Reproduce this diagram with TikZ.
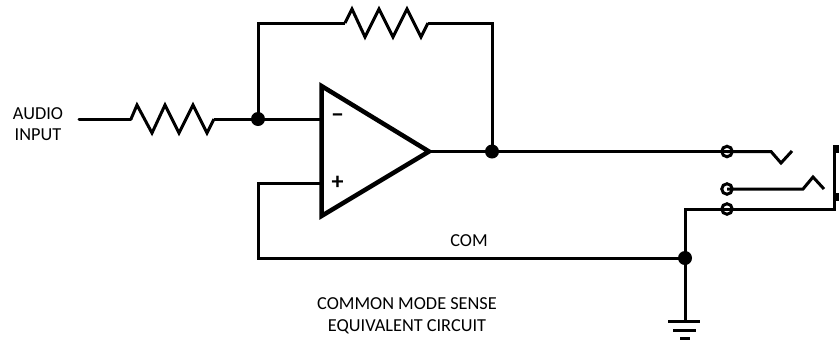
\documentclass[tikz,border=0pt]{standalone}
\usepackage{fontspec}
\setmainfont{Carlito}
\tikzset{
wire/.style={line width=3pt,line join=miter},
dot/.style={circle,fill=black,inner sep=0pt,minimum size=14pt},
jackring/.style={circle,draw=black,line width=3pt,fill=none,inner sep=0pt,minimum size=10.5pt},
lbl/.style={font=\fontsize{18.3}{21.5}\selectfont,align=center,inner sep=0pt},
sign/.style={font=\fontsize{24}{24}\selectfont\bfseries,inner sep=0pt}
}
\begin{document}
\begin{tikzpicture}[x=1pt,y=-1pt]
\useasboundingbox (0,0) rectangle (839,341);
% op amp
\coordinate (ampin) at (321.5,119);
\coordinate (ampplus) at (321.5,183);
\coordinate (ampout) at (429,151.5);
\draw [line width=4.5pt,line join=miter] (321.5,86)--(ampout)--(321.5,216)--cycle;
\node [sign] (minus) at (337.5,118.5) {−};
\node [sign] (plus) at (337.5,183) {+};
% junctions
\node [dot] (jin) at (258,119) {};
\node [dot] (jout) at (492,151.5) {};
\node [dot] (jcom) at (685,258) {};
% jack contacts
\node [jackring] (tip) at (727,151.5) {};
\node [jackring] (ring) at (727,189) {};
\node [jackring] (sleeve) at (727,209) {};
% input and resistor
\coordinate (audio) at (79,119);
\coordinate (rinl) at (131,119);
\coordinate (rinr) at (214,119);
\draw [wire,line cap=round] (audio)--(rinl);
\draw [wire] (rinl)--(137,105)--(152,133)--(165,105)--(179,133)--(193,105)--(207,133)--(rinr);
\draw [wire] (rinr)--(jin.center);
\draw [wire] (jin.center)--(ampin);
% feedback
\coordinate (rfl) at (345,23);
\coordinate (rfr) at (428,23);
\draw [wire] (jin.center)|-(rfl);
\draw [wire] (rfl)--(352,9)--(365,37)--(379,9)--(393,37)--(407,9)--(421,37)--(rfr);
\draw [wire] (rfr)-|(jout.center);
\draw [wire] (ampout)--(jout.center);
% plus input and common
\draw [wire] (ampplus)-|(258,258)--(jcom.center);
\node [lbl] (com) at (469,241) {COM};
% outputs
\draw [wire] (jout.center)--(tip.center);
\draw [wire] (tip.center)--(771,151.5)--(781,163)--(792,151);
\draw [wire] (ring.center)--(803,189)--(813,177)--(824,189);
% sleeve
\coordinate (slv) at (685,209);
\coordinate (slvr) at (834,209);
\draw [wire] (jcom.center)--(slv)--(sleeve.center);
\draw [wire] (sleeve.center)--(slvr)--(834,145);
\fill (833,145) rectangle (839,153);
\fill (833,193) rectangle (839,201);
% ground
\coordinate (gnd) at (685,321);
\draw [wire] (jcom.center)--(gnd);
\draw [wire] (668,321)--(700,321);
\draw [wire] (673,330)--(696,330);
\draw [wire] (680,338)--(690,338);
% labels
\node [lbl] (audiotxt) at (38,124) {AUDIO\\INPUT};
\node [lbl] (title) at (407,316) {COMMON MODE SENSE\\EQUIVALENT CIRCUIT};
\end{tikzpicture}
\end{document}
